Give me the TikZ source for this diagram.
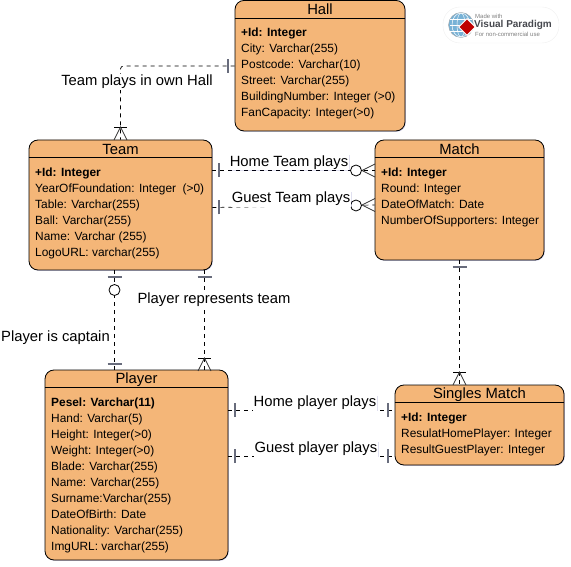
\documentclass[tikz,border=0pt]{standalone}
\usepackage{fontspec}
\setmainfont{Liberation Sans}
\usetikzlibrary{calc,shadows,shapes.geometric}
\definecolor{entityfill}{RGB}{244,182,120}
\definecolor{markgray}{RGB}{104,108,124}
\definecolor{logotext}{RGB}{70,72,78}
\definecolor{globeblue}{RGB}{120,178,214}
\tikzset{
  entity/.style={draw=black,fill=entityfill,line width=0.8pt,rounded corners=9pt,inner sep=0pt,
    drop shadow={shadow xshift=0.8pt,shadow yshift=-0.8pt,fill=black!50!blue,opacity=0.2}},
  title/.style={font=\fontsize{14.8}{16}\selectfont,inner sep=0pt},
  attrs/.style={anchor=north west,align=left,inner sep=0pt,font=\fontsize{11.9}{16}\selectfont},
  rel/.style={fill=white,inner sep=1pt,font=\fontsize{14.8}{16}\selectfont,
    drop shadow={shadow xshift=0.5pt,shadow yshift=-0.5pt,fill=black!50!blue,opacity=0.12}},
  link/.style={draw=black,line width=0.7pt,dash pattern=on 4pt off 4pt},
  optcircle/.style={circle,draw=black,fill=white,line width=0.8pt,minimum size=11pt,inner sep=0pt},
  onebar/.pic={\draw[markgray,line width=1.2pt] (-7,0) -- (7,0);},
  crowlegs/.pic={\draw[black!80,line width=0.7pt] (-6.5,13) -- (0,0) -- (6.5,13);},
  crowfoot/.pic={\draw[black,line width=0.8pt] (-6.5,0) -- (6.5,0);
    \draw[black!80,line width=0.7pt] (-6.5,13) -- (0,0) -- (6.5,13);}
}
\begin{document}
\begin{tikzpicture}[x=1pt,y=-1pt]
\useasboundingbox (0,0) rectangle (571,567);

% entities
\node (Hall) [entity,minimum width=170pt,minimum height=130.5pt] at (320,65.7) {};
\node (Team) [entity,minimum width=183pt,minimum height=130pt] at (120.5,205) {};
\node (Match) [entity,minimum width=169pt,minimum height=120pt] at (459.5,200) {};
\node (Player) [entity,minimum width=183pt,minimum height=190pt] at (136.5,465) {};
\node (Singles) [entity,minimum width=169pt,minimum height=80pt] at (479.5,425) {};
\foreach \e in {Hall,Team,Match,Player,Singles}
  \draw[line width=0.8pt] ($(\e.north west)+(0,18)$) -- ($(\e.north east)+(0,18)$);

\node (HallTitle) [title] at (320,9) {Hall};
\node (TeamTitle) [title] at (120.5,149.5) {Team};
\node (MatchTitle) [title] at (459.5,149.5) {Match};
\node (PlayerTitle) [title] at (136.5,380) {Player};
\node (SinglesTitle) [title] at (479.5,395) {Singles Match};

\node (HallAttr) [attrs] at (241,27.5) {\textbf{+Id: Integer}\\City: Varchar(255)\\Postcode: Varchar(10)\\Street: Varchar(255)\\BuildingNumber: Integer (>0)\\FanCapacity: Integer(>0)};
\node (TeamAttr) [attrs] at (35,167.5) {\textbf{+Id: Integer}\\YearOfFoundation: Integer \ (>0)\\Table: Varchar(255)\\Ball: Varchar(255)\\Name: Varchar (255)\\LogoURL: varchar(255)};
\node (MatchAttr) [attrs] at (381,167.5) {\textbf{+Id: Integer}\\Round: Integer\\DateOfMatch: Date\\NumberOfSupporters: Integer};
\node (PlayerAttr) [attrs] at (51,397.5) {\textbf{Pesel: Varchar(11)}\\Hand: Varchar(5)\\Height: Integer(>0)\\Weight: Integer(>0)\\Blade: Varchar(255)\\Name: Varchar(255)\\Surname:Varchar(255)\\DateOfBirth: Date\\Nationality: Varchar(255)\\ImgURL: varchar(255)};
\node (SinglesAttr) [attrs] at (401,412.5) {\textbf{+Id: Integer}\\ResulatHomePlayer: Integer\\ResultGuestPlayer: Integer};

% connectors
\draw[link,rounded corners=3pt] (Hall.west |- 0,66) -- (120.5,66) -- (Team.north);
\draw[link] (Team.east |- 0,170) -- (Match.west |- 0,170);
\draw[link] (Team.east |- 0,207.5) -- (Match.west |- 0,205);
\draw[link] (114.5,270) -- (114.5,370);
\draw[link] (204.5,270) -- (204.5,370);
\draw[link] (Match.south) -- (Singles.north -| Match.south);
\draw[link] (Player.east |- 0,410) -- (Singles.west |- 0,410);
\draw[link] (Player.east |- 0,456) -- (Singles.west |- 0,456);

% connector ends
\pic[rotate=90] at (228,66) {onebar};
\pic at (120.5,127) {crowfoot};
\pic[rotate=90] at (219,170) {onebar};
\pic[rotate=90] at (219,207.5) {onebar};
\pic[rotate=90] at (362,170.5) {crowlegs};
\pic[rotate=90] at (362,205) {crowlegs};
\node (HomeCircle) [optcircle] at (356,170.5) {};
\node (GuestCircle) [optcircle] at (356,205.5) {};
\pic at (114.5,277) {onebar};
\node (CaptainCircle) [optcircle] at (114.5,290) {};
\pic at (114.5,364) {onebar};
\pic at (204.5,277) {onebar};
\pic at (204.5,358) {crowfoot};
\pic at (459.5,267) {onebar};
\pic at (459.5,372) {crowfoot};
\pic[rotate=90] at (235,410) {onebar};
\pic[rotate=90] at (388,410) {onebar};
\pic[rotate=90] at (235,456) {onebar};
\pic[rotate=90] at (388,456) {onebar};

% connector labels
\node (OwnHall) [rel] at (137,82) {Team plays in own Hall};
\node (HomeTeam) [rel] at (289,162.5) {Home Team plays};
\node (GuestTeam) [rel] at (291,199) {Guest Team plays};
\node (Captain) [rel] at (55.5,338) {Player is captain};
\node (Represents) [rel] at (214,300) {Player represents team};
\node (HomePlayer) [rel] at (315,403) {Home player plays};
\node (GuestPlayer) [rel] at (316,449) {Guest player plays};

% logo
\node (Logo) [draw=black!6,fill=white,rounded corners=17pt,minimum width=116pt,minimum height=36pt,inner sep=0pt] at (501,25) {};
\node (Globe) [circle,draw=black!35,fill=globeblue,minimum size=25pt,inner sep=0pt] at (461,25) {};
\foreach \w in {4,9}
  \draw[white,line width=0.5pt] (Globe.center) ellipse ({\w pt} and 12pt);
\foreach \h in {-6,0,6}
  \draw[white,line width=0.5pt] ($(Globe.center)+(-11,\h)$) -- ($(Globe.center)+(11,\h)$);
\node (Mark) [diamond,draw=white,line width=1pt,fill=red!75!black,minimum size=17pt,inner sep=0pt] at (467,27) {};
\node (LogoTop) [anchor=west,inner sep=0pt,text=black!50,font=\fontsize{6}{6}\selectfont] at (475,16) {Made with};
\node (LogoName) [anchor=west,inner sep=0pt,text=logotext,font=\bfseries\fontsize{10}{10}\selectfont] at (474,25) {Visual Paradigm};
\node (LogoNote) [anchor=west,inner sep=0pt,text=black!50,font=\fontsize{6}{6}\selectfont] at (475,34) {For non-commercial use};
\end{tikzpicture}
\end{document}
